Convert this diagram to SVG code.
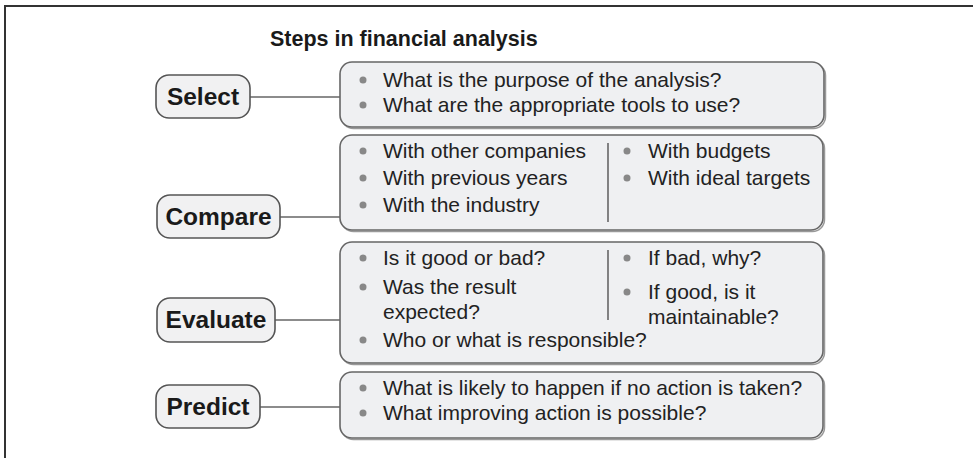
<svg xmlns="http://www.w3.org/2000/svg" width="973" height="458" viewBox="0 0 973 458">
  <style>
    .frame { fill: none; stroke: #333; stroke-width: 2; }
    .title { font-family: "Liberation Sans", Arial, sans-serif; font-weight: bold; font-size: 21.5px; fill: #1a1a1a; }
    .pill { fill: #f1f1f2; stroke: #555; stroke-width: 1.6; }
    .label { font-family: "Liberation Sans", Arial, sans-serif; font-weight: bold; font-size: 24.5px; fill: #1a1a1a; text-anchor: middle; }
    .box { fill: #eff0f2; stroke: #666; stroke-width: 1.6; }
    .shadow { fill: none; stroke: #999; stroke-width: 1.5; }
    .item { font-family: "Liberation Sans", Arial, sans-serif; font-size: 21px; fill: #222; }
    .dot { fill: #888; }
    .divider { stroke: #666; stroke-width: 1.6; }
    .link { stroke: #666; stroke-width: 1.6; fill: none; }
  </style>

  <!-- outer frame (open to the right and bottom) -->
  <path class="frame" d="M5,458 V6 H973"/>

  <text class="title" x="270" y="46">Steps in financial analysis</text>

  <!-- connectors between step labels and their detail boxes -->
  <g id="connectors">
    <line class="link" x1="250" y1="97" x2="340" y2="97"/>
    <line class="link" x1="280" y1="217" x2="340" y2="217"/>
    <line class="link" x1="275" y1="320" x2="340" y2="320"/>
    <line class="link" x1="260" y1="407" x2="340" y2="407"/>
  </g>

  <!-- Select -->
  <g id="select">
    <rect class="pill" x="156" y="75" width="94" height="43" rx="13"/>
    <text class="label" x="203" y="105">Select</text>
  </g>
  <g id="select-details">
    <rect class="shadow" x="341.5" y="63.5" width="484" height="65" rx="12"/>
    <rect class="box" x="340" y="62" width="484" height="65" rx="12"/>
    <circle class="dot" cx="363" cy="80" r="3.5"/>
    <text class="item" x="383" y="87">What is the purpose of the analysis?</text>
    <circle class="dot" cx="363" cy="105" r="3.5"/>
    <text class="item" x="383" y="112">What are the appropriate tools to use?</text>
  </g>

  <!-- Compare -->
  <g id="compare">
    <rect class="pill" x="157" y="195" width="123" height="43" rx="13"/>
    <text class="label" x="218.5" y="225">Compare</text>
  </g>
  <g id="compare-details">
    <rect class="shadow" x="341.5" y="136.5" width="483" height="95" rx="12"/>
    <rect class="box" x="340" y="135" width="483" height="95" rx="12"/>
    <line class="divider" x1="608" y1="143" x2="608" y2="222"/>
    <circle class="dot" cx="363" cy="151" r="3.5"/>
    <text class="item" x="383" y="158">With other companies</text>
    <circle class="dot" cx="363" cy="178" r="3.5"/>
    <text class="item" x="383" y="185">With previous years</text>
    <circle class="dot" cx="363" cy="205" r="3.5"/>
    <text class="item" x="383" y="212">With the industry</text>
    <circle class="dot" cx="627" cy="151" r="3.5"/>
    <text class="item" x="648" y="158">With budgets</text>
    <circle class="dot" cx="627" cy="178" r="3.5"/>
    <text class="item" x="648" y="185">With ideal targets</text>
  </g>

  <!-- Evaluate -->
  <g id="evaluate">
    <rect class="pill" x="157" y="298" width="118" height="44" rx="13"/>
    <text class="label" x="216" y="328">Evaluate</text>
  </g>
  <g id="evaluate-details">
    <rect class="shadow" x="341.5" y="243.5" width="483" height="121" rx="12"/>
    <rect class="box" x="340" y="242" width="483" height="121" rx="12"/>
    <line class="divider" x1="608" y1="250" x2="608" y2="320"/>
    <circle class="dot" cx="363" cy="258" r="3.5"/>
    <text class="item" x="383" y="265">Is it good or bad?</text>
    <circle class="dot" cx="363" cy="287" r="3.5"/>
    <text class="item" x="383" y="294">Was the result</text>
    <text class="item" x="383" y="319">expected?</text>
    <circle class="dot" cx="363" cy="340" r="3.5"/>
    <text class="item" x="383" y="347">Who or what is responsible?</text>
    <circle class="dot" cx="627" cy="258" r="3.5"/>
    <text class="item" x="648" y="265">If bad, why?</text>
    <circle class="dot" cx="627" cy="292" r="3.5"/>
    <text class="item" x="648" y="299">If good, is it</text>
    <text class="item" x="648" y="324">maintainable?</text>
  </g>

  <!-- Predict -->
  <g id="predict">
    <rect class="pill" x="156" y="385" width="104" height="43" rx="13"/>
    <text class="label" x="208" y="415">Predict</text>
  </g>
  <g id="predict-details">
    <rect class="shadow" x="341.5" y="373.5" width="483" height="66" rx="12"/>
    <rect class="box" x="340" y="372" width="483" height="66" rx="12"/>
    <circle class="dot" cx="363" cy="388" r="3.5"/>
    <text class="item" x="383" y="395">What is likely to happen if no action is taken?</text>
    <circle class="dot" cx="363" cy="413" r="3.5"/>
    <text class="item" x="383" y="420">What improving action is possible?</text>
  </g>
</svg>
